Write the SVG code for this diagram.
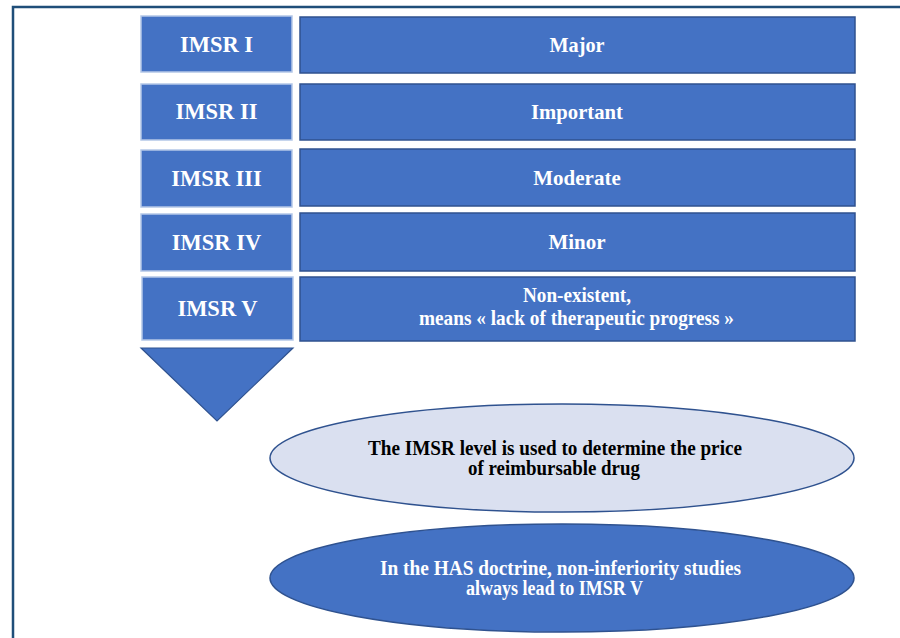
<svg xmlns="http://www.w3.org/2000/svg" width="900" height="638" viewBox="0 0 900 638">
<style>
.lbox{fill:#4472C4;stroke:#B4C7E7;stroke-width:1.5}
.rbox{fill:#4472C4;stroke:#2F528F;stroke-width:1.5}
.t{font-family:"Liberation Serif","Times New Roman",serif;font-weight:bold;fill:#FFFFFF;text-anchor:middle}
.lt{font-size:22.5px}
.rt{font-size:21px}
.et{font-size:20px}
.dark{fill:#000000}
</style>
<rect x="0" y="0" width="900" height="638" fill="#FFFFFF"/>
<path d="M13 638 V7 H900" fill="none" stroke="#1F4E79" stroke-width="2.5"/>
<g id="imsr1"><rect class="lbox" x="141" y="16" width="151" height="56"/><text class="t lt" x="216.5" y="52">IMSR I</text></g>
<g id="major"><rect class="rbox" x="300" y="17" width="555" height="56"/><text class="t rt" x="577" y="52" textLength="55" lengthAdjust="spacingAndGlyphs">Major</text></g>
<g id="imsr2"><rect class="lbox" x="141" y="84" width="151" height="56"/><text class="t lt" x="216.5" y="119">IMSR II</text></g>
<g id="important"><rect class="rbox" x="300" y="84" width="555" height="56"/><text class="t rt" x="577" y="119" textLength="92" lengthAdjust="spacingAndGlyphs">Important</text></g>
<g id="imsr3"><rect class="lbox" x="141" y="150" width="151" height="57"/><text class="t lt" x="216.5" y="186">IMSR III</text></g>
<g id="moderate"><rect class="rbox" x="300" y="149" width="555" height="57"/><text class="t rt" x="577" y="185">Moderate</text></g>
<g id="imsr4"><rect class="lbox" x="141" y="214" width="151" height="57"/><text class="t lt" x="216.5" y="250">IMSR IV</text></g>
<g id="minor"><rect class="rbox" x="300" y="213" width="555" height="58"/><text class="t rt" x="577" y="249">Minor</text></g>
<g id="imsr5"><rect class="lbox" x="142" y="277" width="151" height="63"/><text class="t lt" x="217.5" y="316">IMSR V</text></g>
<g id="nonexistent"><rect class="rbox" x="300" y="277" width="555" height="64"/><text class="t rt" x="577" y="302" textLength="108" lengthAdjust="spacingAndGlyphs">Non-existent,</text><text class="t rt" x="576.5" y="325" textLength="315" lengthAdjust="spacingAndGlyphs">means « lack of therapeutic progress »</text></g>
<g id="arrow"><polygon points="141,348 293,348 217,421" fill="#4472C4" stroke="#2F528F" stroke-width="1.2"/></g>
<g id="price"><ellipse cx="562" cy="458" rx="292" ry="54" fill="#DAE0F0" stroke="#2F528F" stroke-width="1.5"/><text class="t et dark" x="555" y="455" textLength="374" lengthAdjust="spacingAndGlyphs">The IMSR level is used to determine the price</text><text class="t et dark" x="554" y="475" textLength="172" lengthAdjust="spacingAndGlyphs">of reimbursable drug</text></g>
<g id="doctrine"><ellipse cx="562" cy="578" rx="292" ry="54" fill="#4472C4" stroke="#2F528F" stroke-width="1.5"/><text class="t et" x="560.5" y="575" textLength="361" lengthAdjust="spacingAndGlyphs">In the HAS doctrine, non-inferiority studies</text><text class="t et" x="554.5" y="595" textLength="177" lengthAdjust="spacingAndGlyphs">always lead to IMSR V</text></g>
<g id="connectors"></g>
</svg>
